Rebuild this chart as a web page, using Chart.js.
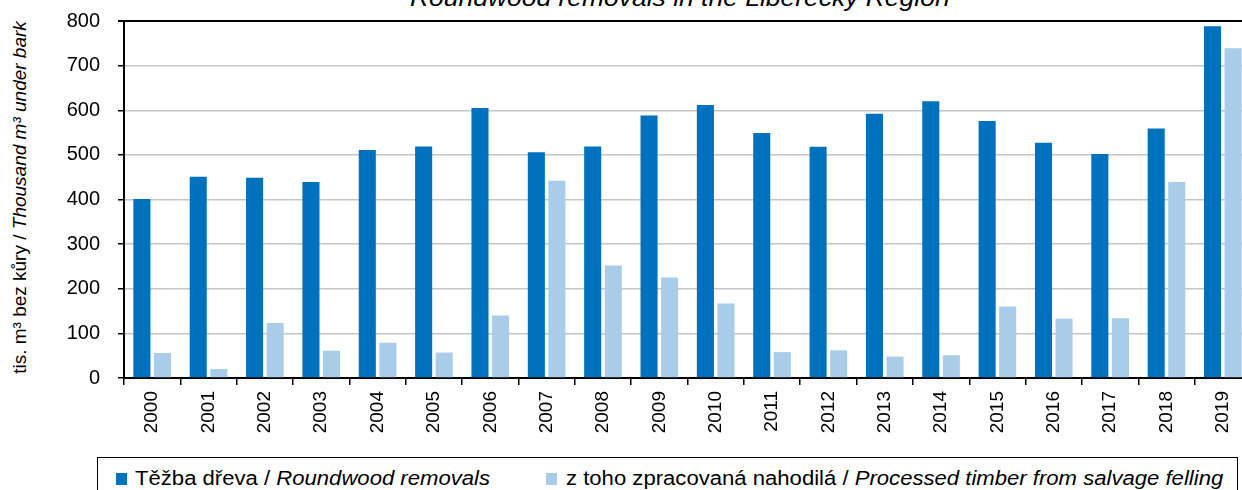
<!DOCTYPE html>
<html>
<head>
<meta charset="utf-8">
<script src="https://cdn.jsdelivr.net/npm/chart.js@4"></script>
<style>
  html, body { margin: 0; padding: 0; background: #fff; overflow: hidden; }
  body { width: 1242px; height: 490px; position: relative; font-family: "Liberation Sans", Arial, sans-serif; color: #000; }
  #wrap { position: absolute; left: 0; top: 0; width: 1260px; height: 450px; }
  #title { position: absolute; left: 410px; top: -13px; font-size: 23px; line-height: 23px; font-style: italic; white-space: nowrap; transform: scaleX(1.15); transform-origin: left top; }
  #ytitle { position: absolute; left: -181px; top: 188px; width: 400px; text-align: center; font-size: 19px; line-height: 19px; white-space: nowrap; transform: rotate(-90deg); }
  #legend { position: absolute; left: 97px; top: 457px; width: 1141px; height: 50px; border: 1.5px solid #000; box-sizing: border-box; }
  .mark { position: absolute; width: 11px; height: 12px; }
  .lbl { position: absolute; font-size: 20px; line-height: 20px; white-space: nowrap; transform: scaleX(1.105); transform-origin: left top; }
  i { font-style: italic; }
</style>
</head>
<body>
<div id="title">Roundwood removals in the Liberecký Region</div>
<div id="ytitle">tis. m³ bez kůry / <i>Thousand m³ under bark</i></div>
<div id="wrap"><canvas id="chart" width="1260" height="450"></canvas></div>
<div id="legend">
  <div class="mark" style="left:18px;top:15px;background:#0071bc"></div>
  <div class="lbl" style="left:37px;top:10px">Těžba dřeva / <i>Roundwood removals</i></div>
  <div class="mark" style="left:448px;top:15px;background:#a9cde8"></div>
  <div class="lbl" style="left:468px;top:10px">z toho zpracovaná nahodilá / <i>Processed timber from salvage felling</i></div>
</div>
<script>
const years = ['2000', '2001', '2002', '2003', '2004', '2005', '2006', '2007', '2008', '2009',
               '2010', '2011', '2012', '2013', '2014', '2015', '2016', '2017', '2018', '2019'];
// tis. m3 bez kury
const removals = [401, 451, 449, 439, 511, 519, 605, 506, 519, 588, 612, 549, 518, 592, 620, 576, 527, 502, 559, 788];
const salvage = [56, 20, 123, 61, 79, 57, 140, 442, 252, 225, 167, 58, 62, 48, 51, 160, 133, 134, 439, 739];

Chart.defaults.font.family = '"Liberation Sans", Arial, sans-serif';
Chart.defaults.color = '#000';

const ctx = document.getElementById('chart').getContext('2d');
new Chart(ctx, {
    type: 'bar',
    data: {
        labels: years,
        datasets: [{
            label: 'Těžba dřeva / Roundwood removals',
            data: removals,
            backgroundColor: '#0071bc',
            barPercentage: 0.83,
            categoryPercentage: 0.73
        }, {
            label: 'z toho zpracovaná nahodilá / Processed timber from salvage felling',
            data: salvage,
            backgroundColor: '#a9cde8',
            barPercentage: 0.83,
            categoryPercentage: 0.73
        }]
    },
    options: {
        responsive: false,
        animation: false,
        layout: { padding: { top: 21, right: 9, left: 0, bottom: 0 } },
        plugins: { legend: { display: false }, tooltip: { enabled: false } },
        scales: {
            x: {
                afterFit: (scale) => { scale.height = 72; scale.paddingLeft = 0; scale.paddingRight = 0; },
                grid: { offset: true, drawOnChartArea: false, drawTicks: true, tickLength: 7, tickColor: '#000', lineWidth: 1.5 },
                border: { color: '#000', width: 2 },
                ticks: { minRotation: 90, maxRotation: 90, padding: 6, font: { size: 19 } }
            },
            y: {
                min: 0,
                max: 800,
                afterFit: (scale) => { scale.width = 124; scale.paddingTop = 0; scale.paddingBottom = 0; },
                grid: {
                    color: (c) => (c.tick && c.tick.value === 800) ? '#000' : '#c6c6c6',
                    lineWidth: (c) => (c.tick && c.tick.value === 800) ? 2 : 1.5,
                    tickColor: '#000',
                    tickLength: 6
                },
                border: { color: '#000', width: 2 },
                ticks: { stepSize: 100, padding: 18, font: { size: 20 } }
            }
        }
    }
});
</script>
</body>
</html>
